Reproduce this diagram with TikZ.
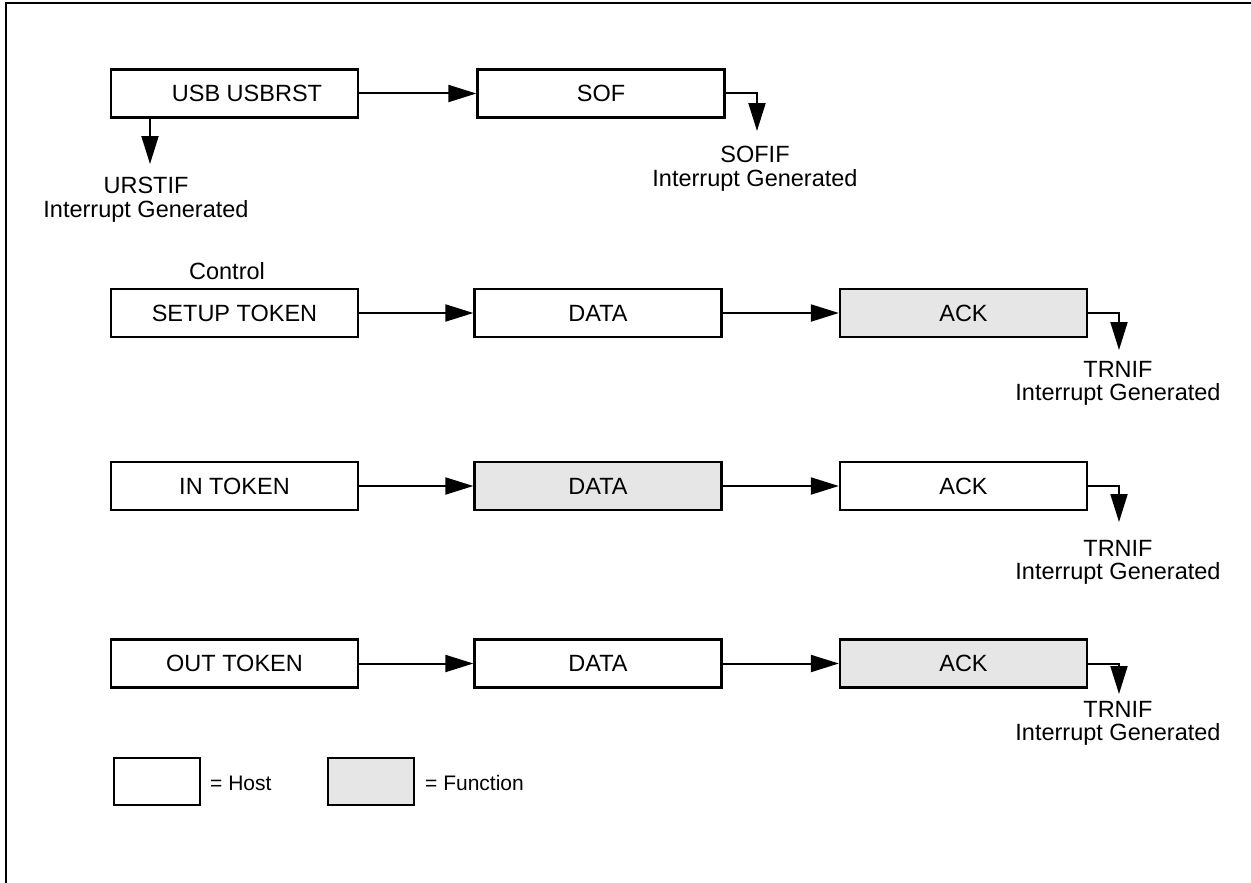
\documentclass[tikz,border=0pt]{standalone}
\usepackage{fontspec}
\setmainfont{Liberation Sans}
\usetikzlibrary{arrows.meta}
\definecolor{fgray}{HTML}{E6E6E6}
\tikzset{
  hostbox/.style={draw, line width=2.3pt, minimum width=247pt, minimum height=48pt, inner sep=0pt, font=\fontsize{23.5}{24}\selectfont},
  funcbox/.style={hostbox, fill=fgray},
  legbox/.style={draw, line width=2.3pt, minimum width=86pt, minimum height=47pt, inner sep=0pt},
  conn/.style={line width=2pt, -{Triangle[length=28pt,width=17pt]}},
  lbl/.style={font=\fontsize{23.5}{23.5}\selectfont, align=center, inner sep=0pt, anchor=north},
  legtext/.style={font=\fontsize{21}{21}\selectfont, inner sep=0pt, anchor=base west}
}
\begin{document}
\begin{tikzpicture}[x=1pt,y=-1pt]
\useasboundingbox (0,0) rectangle (1251,883);
% frame
\draw[line width=2.5pt] (6,883) -- (6,3) -- (1251,3);
% row 1
\node[hostbox] (rst) at (234.5,93.5) {\hspace*{25pt}USB USBRST};
\node[hostbox] (sof) at (601,93.5) {SOF};
\draw[conn] (rst.east) -- (sof.west);
\coordinate (u1) at (150,164);
\draw[conn] (u1 |- rst.south) -- (u1);
\node[lbl] (urstif) at (146,177) {URSTIF\\Interrupt Generated};
\coordinate (s1) at (757,131);
\draw[conn] (sof.east) -| (s1);
\node[lbl] (sofif) at (755,146) {SOFIF\\Interrupt Generated};
% row 2
\node[font=\fontsize{23.5}{24}\selectfont, inner sep=0pt, anchor=base] (ctl) at (227,279) {Control};
\node[hostbox] (setup) at (234.5,313) {SETUP TOKEN};
\node[hostbox] (data2) at (598,313) {DATA};
\node[funcbox] (ack2) at (963.5,313) {ACK};
\draw[conn] (setup.east) -- (data2.west);
\draw[conn] (data2.east) -- (ack2.west);
\coordinate (t2) at (1119,350);
\draw[conn] (ack2.east) -| (t2);
\node[lbl] (trnif2) at (1118,361) {TRNIF\\Interrupt Generated};
% row 3
\node[hostbox] (intok) at (234.5,486) {IN TOKEN};
\node[funcbox] (data3) at (598,486) {DATA};
\node[hostbox] (ack3) at (963.5,486) {ACK};
\draw[conn] (intok.east) -- (data3.west);
\draw[conn] (data3.east) -- (ack3.west);
\coordinate (t3) at (1119,522);
\draw[conn] (ack3.east) -| (t3);
\node[lbl] (trnif3) at (1118,540) {TRNIF\\Interrupt Generated};
% row 4
\node[hostbox] (outtok) at (234.5,663.5) {OUT TOKEN};
\node[hostbox] (data4) at (598,663.5) {DATA};
\node[funcbox] (ack4) at (963.5,663.5) {ACK};
\draw[conn] (outtok.east) -- (data4.west);
\draw[conn] (data4.east) -- (ack4.west);
\coordinate (t4) at (1119,694);
\draw[conn] (ack4.east) -| (t4);
\node[lbl] (trnif4) at (1118,701) {TRNIF\\Interrupt Generated};
% legend
\node[legbox] (lhost) at (157,781.5) {};
\node[legtext] (lhostt) at (210,790) {= Host};
\node[legbox, fill=fgray] (lfunc) at (371,781.5) {};
\node[legtext] (lfunct) at (425,790) {= Function};
\end{tikzpicture}
\end{document}
